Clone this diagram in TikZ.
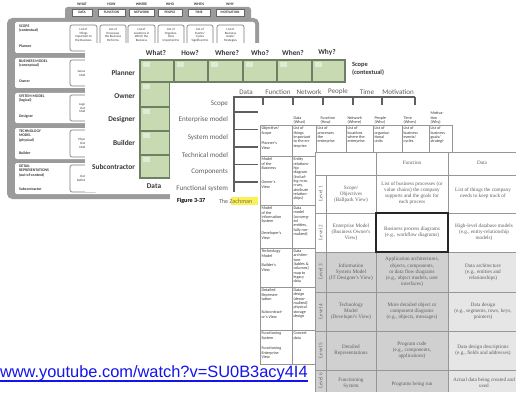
\documentclass[tikz,border=0pt]{standalone}
\usepackage{fontspec}
\newfontfamily\carl{Carlito}
\newfontfamily\lser{Liberation Serif}
\newfontfamily\lsans{Liberation Sans}
\definecolor{framegray}{RGB}{155,155,155}
\definecolor{sage}{RGB}{200,218,178}
\definecolor{sageline}{RGB}{110,128,100}
\definecolor{txtdark}{RGB}{55,55,55}
\definecolor{txtmid}{RGB}{95,95,95}
\definecolor{shadeA}{RGB}{208,208,208}
\definecolor{shadeB}{RGB}{230,230,230}
\definecolor{urlblue}{RGB}{20,20,235}
\definecolor{hlyellow}{RGB}{250,240,90}
\definecolor{linegray}{RGB}{150,150,150}
\tikzset{
  l1txt/.style={font=\carl\bfseries\fontsize{2.9}{3.3}\selectfont, text=txtdark, align=left, anchor=north west},
  l1cell/.style={draw=framegray!80!black, line width=0.5, rounded corners=1.5, fill=white},
  l1celltxt/.style={font=\carl\fontsize{2.4}{2.9}\selectfont, text=txtdark, align=center},
  l2txt/.style={font=\carl\bfseries\fontsize{5.5}{6.2}\selectfont, text=txtdark},
  l3txt/.style={font=\carl\fontsize{5.3}{6}\selectfont, text=txtmid},
  l4txt/.style={font=\carl\fontsize{3.1}{3.25}\selectfont, text=txtdark, align=left, anchor=north west},
  l5txt/.style={font=\lser\fontsize{3.9}{4.6}\selectfont, text=txtmid, align=center},
  l4line/.style={draw=linegray, line width=0.5},
  l5line/.style={draw=linegray, line width=0.6},
  greencell/.style={fill=sage, draw=sageline, line width=0.8},
}
\begin{document}
\begin{tikzpicture}[x=0.75pt,y=-0.75pt, every node/.style={inner sep=0pt, outer sep=0pt}]
\useasboundingbox (0,0) rectangle (516,392);
\fill[white] (0,0) rectangle (516,392);

% ===== Layer 1: grey framework =====
\fill[framegray, rounded corners=2] (65,7) rectangle (251,21);
\foreach \c/\w/\t/\h in {82/20/DATA/WHAT, 111.5/27/FUNCTION/HOW, 141.5/25/NETWORK/WHERE, 170/24/PEOPLE/WHO, 199/22/TIME/WHEN, 230/28/MOTIVATION/WHY}{
  \filldraw[fill=white, draw=black!60, line width=0.4] (\c-\w/2,9.5) rectangle (\c+\w/2,16);
  \node[font=\carl\bfseries\fontsize{2.6}{3}\selectfont, text=txtdark] at (\c,12.8) {\t};
  \node[font=\carl\bfseries\fontsize{2.8}{3}\selectfont, text=txtdark] at (\c,4) {\h};
}
\fill[framegray, rounded corners=4] (7,18) rectangle (259,199);
\foreach \a/\b in {22/53,58/88,93/123,128/159,163/194}
  \fill[white, rounded corners=1.5] (15,\a) rectangle (255,\b);
\node[l1txt] (r1a) at (19,25) {SCOPE\\(contextual)};
\node[l1txt] (r1b) at (19,45) {Planner};
\node[l1txt] (r2a) at (19,60) {BUSINESS MODEL\\(conceptual)};
\node[l1txt] (r2b) at (19,80) {Owner};
\node[l1txt] (r3a) at (19,95) {SYSTEM MODEL\\(logical)};
\node[l1txt] (r3b) at (19,115) {Designer};
\node[l1txt] (r4a) at (19,130) {TECHNOLOGY\\MODEL\\(physical)};
\node[l1txt] (r4b) at (19,152) {Builder};
\node[l1txt] (r5a) at (19,165) {DETAIL\\REPRESENTATIONS\\(out-of-context)};
\node[l1txt] (r5b) at (19,188) {Subcontractor};
\foreach \l/\r/\t in {70/97/{List of\\Things\\Important to\\the Business},
  100/126/{List of\\Processes\\the Business\\Performs},
  128/155/{List of\\Locations in\\Which the\\Business\\Operates},
  158/184/{List of\\Organiza-\\tions\\Important to\\the Business},
  187/213/{List of\\Events/\\Cycles\\Significant to\\the Business},
  217/244/{List of\\Business\\Goals/\\Strategies}}{
  \draw[l1cell] (\l,25) rectangle (\r,51);
  \node[l1celltxt, anchor=north] at ({(\l+\r)/2},28) {\t};
}
\foreach \a/\b/\t in {60/86/{Semantic\\Model}, 95/121/{Logical\\Data\\Model}, 130/157/{Physical\\Data\\Model}, 165/192/{Data\\Definition}}{
  \draw[l1cell] (70,\a) rectangle (97,\b);
  \node[l1celltxt] at (83.5,{(\a+\b)/2}) {\t};
}

% ===== Layer 2: green framework =====
\fill[white] (85,43) rectangle (440,192);
\foreach \x/\t in {156/What?, 190/How?, 227/Where?, 260/Who?, 293/When?, 327/Why?}
  \node[l2txt] at (\x,53) {\t};
\foreach \a/\b in {140/174,174/208,208/243,243/277,277/312,312/345}{
  \filldraw[greencell] (\a,60) rectangle (\b,82);
  \fill[white, opacity=0.45] (\a+3,62) rectangle (\a+10,67);
}
\foreach \a/\b in {82/107,107/131,131/155,155/178}{
  \filldraw[greencell] (140,\a) rectangle (170,\b);
  \fill[white, opacity=0.45] (143,\a+2) rectangle (150,\a+7);
}
\node[l2txt, anchor=east] (planner) at (135,73) {Planner};
\node[l2txt, anchor=east] (owner) at (135,96) {Owner};
\node[l2txt, anchor=east] (designer) at (135,120) {Designer};
\node[l2txt, anchor=east] (builder) at (135,143) {Builder};
\node[l2txt, anchor=east] (subc) at (135,167) {Subcontractor};
\node[l2txt] (datag) at (154,186) {Data};
\node[l2txt, anchor=north west, align=left, font=\carl\bfseries\fontsize{4.8}{6}\selectfont] (scopec) at (352,62) {Scope\\(contextual)};

% ===== Layer 3: bracket framework =====
\fill[white] (170,83) rectangle (462,207);
\foreach \x/\t in {246/Data, 278/Function, 309/Network, 338/People, 367/Time, 398/Motivation}
  \node[l3txt] at (\x,92) {\t};
\draw[txtmid, line width=0.9] (234,192) -- (234,97) -- (415,97);
\foreach \x in {263,293,323,353,382,415}
  \draw[txtmid, line width=0.9] (\x,97) -- (\x,105);
\foreach \y in {112,129.5,147,164.5,182}
  \draw[txtmid, line width=0.9] (234,\y) -- (262,\y);
\foreach \y/\t in {104/Scope, 120/Enterprise model, 138/System model, 155/Technical model, 172/Components, 189/Functional system}
  \node[l3txt, anchor=east] at (228,\y) {\t};
\node[font=\carl\bfseries\fontsize{4.6}{5}\selectfont, anchor=west, text=black] (fig) at (177,201) {Figure 3-37};
\fill[hlyellow] (231,197) rectangle (262,205);
\node[font=\carl\fontsize{4.6}{5}\selectfont, anchor=west, text=txtmid] (figt) at (219,201) {The \textcolor{black!60!yellow}{Zachman}};

% ===== Layer 4: small-text table =====
\fill[white] (258,106) rectangle (470,364);
\node[l4txt, anchor=south west] at (293.5,124) {Data\\(What)};
\node[l4txt, anchor=south west] at (320.5,124) {Function\\(How)};
\node[l4txt, anchor=south west] at (347.5,124) {Network\\(Where)};
\node[l4txt, anchor=south west] at (374.5,124) {People\\(Who)};
\node[l4txt, anchor=south west] at (403.5,124) {Time\\(When)};
\node[l4txt, anchor=south west] at (430.5,124) {Motiva-\\tion\\(Why)};
\draw[l4line] (260,125) rectangle (452,364);
\foreach \y in {156,205,248,287,330} \draw[l4line] (260,\y) -- (452,\y);
\foreach \x in {292,316,346,373,402,429} \draw[l4line] (\x,125) -- (\x,364);
% column 1
\node[l4txt] at (261.5,127) {Objective/\\Scope};
\node[l4txt] at (261.5,142) {Planner's\\View};
\node[l4txt] at (261.5,158) {Model\\of the\\Business};
\node[l4txt] at (261.5,181) {Owner's\\View};
\node[l4txt] at (261.5,207) {Model\\of the\\Information\\System};
\node[l4txt] at (261.5,232) {Developer's\\View};
\node[l4txt] at (261.5,250) {Technology\\Model};
\node[l4txt] at (261.5,264) {Builder's\\View};
\node[l4txt] at (261.5,289) {Detailed\\Represen-\\tation};
\node[l4txt] at (261.5,311) {Subcontract-\\or's View};
\node[l4txt] at (261.5,332) {Functioning\\System};
\node[l4txt] at (261.5,347) {Functioning\\Enterprise\\View};
% column 2
\node[l4txt] at (293.5,127) {List of\\things\\important\\to the en-\\terprise};
\node[l4txt] at (293.5,158) {Entity\\relations-\\hip\\diagram\\(includ-\\ing m:m,\\n-ary,\\attribute\\relation-\\ships)};
\node[l4txt] at (293.5,207) {Data\\model\\(converg-\\ed\\entities,\\fully nor-\\malized)};
\node[l4txt] at (293.5,250) {Data\\architec-\\ture\\(tables \&\\columns)\\map to\\legacy\\data};
\node[l4txt] at (293.5,289) {Data\\design\\(denor-\\malized)\\physical\\storage\\design};
\node[l4txt] at (293.5,332) {Convert\\data};
% row 1 others
\node[l4txt] at (317.5,127) {List of\\processes\\the\\enterprise};
\node[l4txt] at (347.5,127) {List of\\locations\\where the\\enterprise};
\node[l4txt] at (374.5,127) {List of\\organiza-\\tional\\units};
\node[l4txt] at (403.5,127) {List of\\business\\events/\\cycles};
\node[l4txt] at (430.5,127) {List of\\business\\goals/\\strategi-};

% ===== Layer 5: level table =====
\fill[white] (315,152) rectangle (516,392);
\fill[shadeA] (315,252) rectangle (448,392);
\fill[shadeB] (448,252) rectangle (516,392);
\draw[l5line] (315,152) -- (516,152);
\foreach \y in {175,213,252,292,331,370} \draw[l5line] (315,\y) -- (516,\y);
\draw[l5line] (315,152) -- (315,392);
\draw[l5line] (326,175) -- (326,392);
\draw[l5line] (376,152) -- (376,392);
\draw[l5line] (448,152) -- (448,392);
\draw[black!85, line width=1.3] (376,213) rectangle (448,252);
\node[l5txt] (hf) at (412,163) {Function};
\node[l5txt] (hd) at (482,163) {Data};
\foreach \n/\y in {1/194, 2/232.5, 3/272, 4/311.5, 5/350.5, 6/381}
  \node[l5txt, rotate=90] at (320.5,\y) {Level \n};
% level 1
\node[l5txt] at (351,194) {Scope/\\Objectives\\(Ballpark View)};
\node[l5txt] at (412,193.5) {List of business processes (or\\value chains) the company\\supports and the goals for\\each process};
\node[l5txt] at (483,193) {List of things the company\\needs to keep track of};
% level 2
\node[l5txt] at (351,232.5) {Enterprise Model\\(Business Owner's\\View)};
\node[l5txt] at (412,232.5) {Business process diagrams\\(e.g., workflow diagrams)};
\node[l5txt] at (484,232.5) {High-level database models\\(e.g., entity-relationship\\models)};
% level 3
\node[l5txt] at (351,272) {Information\\System Model\\(IT Designer's View)};
\node[l5txt] at (412,272) {Application architectures,\\objects, components,\\or data flow diagrams\\(e.g., object models, user\\interfaces)};
\node[l5txt] at (483,272) {Data architecture\\(e.g., entities and\\relationships)};
% level 4
\node[l5txt] at (351,311.5) {Technology\\Model\\(Developer's View)};
\node[l5txt] at (412,311.5) {More detailed object or\\component diagrams\\(e.g., objects, messages)};
\node[l5txt] at (483,311.5) {Data design\\(e.g., segments, rows, keys,\\pointers)};
% level 5
\node[l5txt] at (351,350.5) {Detailed\\Representations};
\node[l5txt] at (412,350.5) {Program code\\(e.g., components,\\applications)};
\node[l5txt] at (483,350.5) {Data design descriptions\\(e.g., fields and addresses)};
% level 6
\node[l5txt] at (351,383) {Functioning\\System};
\node[l5txt] at (412,384) {Programs being run};
\node[l5txt] at (484,383) {Actual data being created and\\used};

% ===== URL =====
\node[font=\lsans\fontsize{12.3}{14}\selectfont, text=urlblue, anchor=base west] (url) at (0,377) {www.youtube.com/watch?v=SU0B3acy4I4};
\draw[urlblue, line width=1.1] (0,381) -- (308,381);
\end{tikzpicture}
\end{document}
